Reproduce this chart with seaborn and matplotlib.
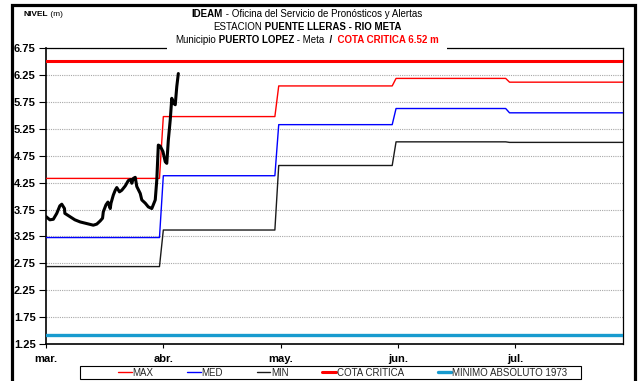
import numpy as np
import pandas as pd
import matplotlib
matplotlib.use("Agg")
import matplotlib.pyplot as plt
import seaborn as sns
from matplotlib.patches import Rectangle

# ---- data -------------------------------------------------------------
month_labels = ["mar.", "abr.", "may.", "jun.", "jul."]
month_ticks = [0, 30.5, 61, 91.5, 122]          # day offsets from 1 March
period_end = 150

# monthly reference levels (m)
level_max = [4.33, 5.48, 6.05, 6.19, 6.12]
level_med = [3.23, 4.38, 5.33, 5.63, 5.55]
level_min = [2.69, 3.37, 4.57, 5.01, 5.00]
# start / end day of each change-over between consecutive months
change_days = [(29.5, 30.5), (59.5, 60.5), (90.0, 91.0), (119.5, 120.5)]

cota_critica = 6.52
minimo_1973 = 1.42

# observed stage (day offset, level m)
obs_day = [0.0, 1.0, 1.9, 2.8, 3.6, 4.1, 4.8, 4.9, 6.2, 7.5, 8.9, 10.6, 12.3,
           13.2, 14.1, 14.7, 14.9, 15.6, 16.1, 16.7, 16.9, 17.5, 18.0, 18.4,
           19.1, 19.7, 20.6, 21.4, 22.0, 22.3, 22.7, 23.2, 23.6, 24.5, 24.9,
           25.8, 26.6, 27.5, 27.9, 28.4, 28.8, 29.2, 29.7, 30.4, 31.0, 31.4,
           31.8, 32.3, 32.7, 33.1, 33.6, 34.0, 34.4]
obs_level = [3.62, 3.56, 3.57, 3.68, 3.82, 3.85, 3.77, 3.68, 3.62, 3.56, 3.52,
             3.49, 3.46, 3.48, 3.54, 3.59, 3.71, 3.84, 3.89, 3.77, 3.87, 4.02,
             4.11, 4.16, 4.08, 4.11, 4.19, 4.29, 4.31, 4.24, 4.33, 4.35, 4.18,
             4.05, 3.93, 3.87, 3.80, 3.77, 3.84, 3.93, 4.30, 4.95, 4.93, 4.83,
             4.64, 4.61, 5.04, 5.42, 5.82, 5.73, 5.70, 6.04, 6.28]


def step_series(levels):
    xs, ys = [0], [levels[0]]
    for (a, b), prev, nxt in zip(change_days, levels[:-1], levels[1:]):
        xs += [a, b]
        ys += [prev, nxt]
    xs.append(period_end)
    ys.append(levels[-1])
    return pd.DataFrame({"dia": xs, "nivel": ys})


# ---- figure -----------------------------------------------------------
W, H = 638, 381
sns.set_theme(style="white")
plt.rcParams["font.family"] = ["Liberation Sans", "DejaVu Sans"]

fig = plt.figure(figsize=(W / 100, H / 100), dpi=100)
fig.patch.set_facecolor("white")


def fx(x):
    return x / W


def fy(y):
    return 1 - y / H


ax = fig.add_axes([fx(46), fy(344), (623 - 46) / W, (344 - 48.3) / H])

for levels, color, name in [(level_max, "#ff0000", "MAX"),
                            (level_med, "#0000ff", "MED"),
                            (level_min, "#1a1a1a", "MIN")]:
    sns.lineplot(data=step_series(levels), x="dia", y="nivel", color=color,
                 linewidth=1.0, estimator=None, sort=False, label=name, ax=ax,
                 zorder=3)

ax.axhline(cota_critica, color="#ff0000", linewidth=2.2, label="COTA CRITICA",
           zorder=3)
ax.axhline(minimo_1973, color="#189bcf", linewidth=2.4,
           label="MINIMO ABSOLUTO 1973", zorder=3)

sns.lineplot(x=obs_day, y=obs_level, color="black", linewidth=2.2,
             estimator=None, sort=False, legend=False, ax=ax, zorder=4)

ax.set_xlim(0, period_end)
ax.set_ylim(1.25, 6.75)
ax.set_yticks(np.arange(1.25, 6.76, 0.5))
ax.set_yticklabels([f"{v:.2f}" for v in np.arange(1.25, 6.76, 0.5)],
                   fontsize=8, fontweight="bold")
ax.set_xticks(month_ticks)
ax.set_xticklabels(month_labels, fontsize=8, fontweight="bold")
ax.set_xlabel("")
ax.set_ylabel("")
ax.tick_params(axis="y", direction="out", length=5, width=0.8, pad=2.5,
               left=True, colors="black")
ax.tick_params(axis="x", direction="out", length=3, width=0.8, pad=4.5,
               bottom=True, colors="black")
ax.yaxis.grid(True, linestyle=(0, (1, 1)), color="#a8a8a8", linewidth=0.8)
ax.xaxis.grid(False)
for side, sp in ax.spines.items():
    sp.set_visible(True)
    sp.set_color("black")
    sp.set_linewidth(1.2 if side in ("left", "bottom") else 0.9)

# legend in its own framed strip below the axes
handles, labels = ax.get_legend_handles_labels()
leg = ax.legend(handles, labels, ncol=5, frameon=False, fontsize=7,
                loc="center left", bbox_to_anchor=(fx(118), fy(372.5)),
                bbox_transform=fig.transFigure, borderpad=0,
                borderaxespad=0, handlelength=1.4, handletextpad=0.1,
                columnspacing=3.45)
fig.patches.append(Rectangle((fx(80), fy(379)), (581 - 80) / W, 13 / H,
                             transform=fig.transFigure, fill=False,
                             edgecolor="black", linewidth=0.8, zorder=5))

# outer border of the sheet
fig.patches.append(Rectangle((fx(12.3), fy(395)), (634.7 - 12.3) / W,
                             (395 - 5) / H, transform=fig.transFigure,
                             fill=False, edgecolor="black", linewidth=2.3,
                             zorder=6, clip_on=False))

# white background behind the title block
fig.patches.append(Rectangle((fx(167), fy(50.5)), (447 - 167) / W,
                             (50.5 - 33) / H, transform=fig.transFigure,
                             facecolor="white", edgecolor="none", zorder=5))

renderer = fig.canvas.get_renderer()


def rich_line(parts, cx, cy, size, ha="center"):
    """Draw a line made of differently styled pieces, centred on cx."""
    texts = [fig.text(0, 0, t, fontsize=size, fontweight=w, color=c,
                      va="center", ha="left", zorder=7)
             for t, w, c in parts]
    widths = [t.get_window_extent(renderer).width for t in texts]
    x = cx - sum(widths) / 2 if ha == "center" else cx
    for t, w in zip(texts, widths):
        t.set_position((fx(x), fy(cy)))
        x += w


rich_line([("IDEAM", "bold", "black"),
           (" - Oficina del Servicio de Pronósticos y Alertas", "normal", "black")],
          307, 14, 7)
rich_line([("ESTACION", "normal", "black"),
           (" PUENTE LLERAS - RIO META", "bold", "black")],
          307, 27, 7)
rich_line([("Municipio", "normal", "black"),
           (" PUERTO LOPEZ", "bold", "black"),
           (" - Meta", "normal", "black"),
           ("  /", "bold", "black"),
           ("  COTA CRITICA 6.52 m", "bold", "#ff0000")],
          307, 40, 7)
rich_line([("NIVEL", "bold", "black"), (" (m)", "normal", "black")],
          23, 15, 6, ha="left")

fig.savefig("out.png", dpi=100, facecolor="white")
